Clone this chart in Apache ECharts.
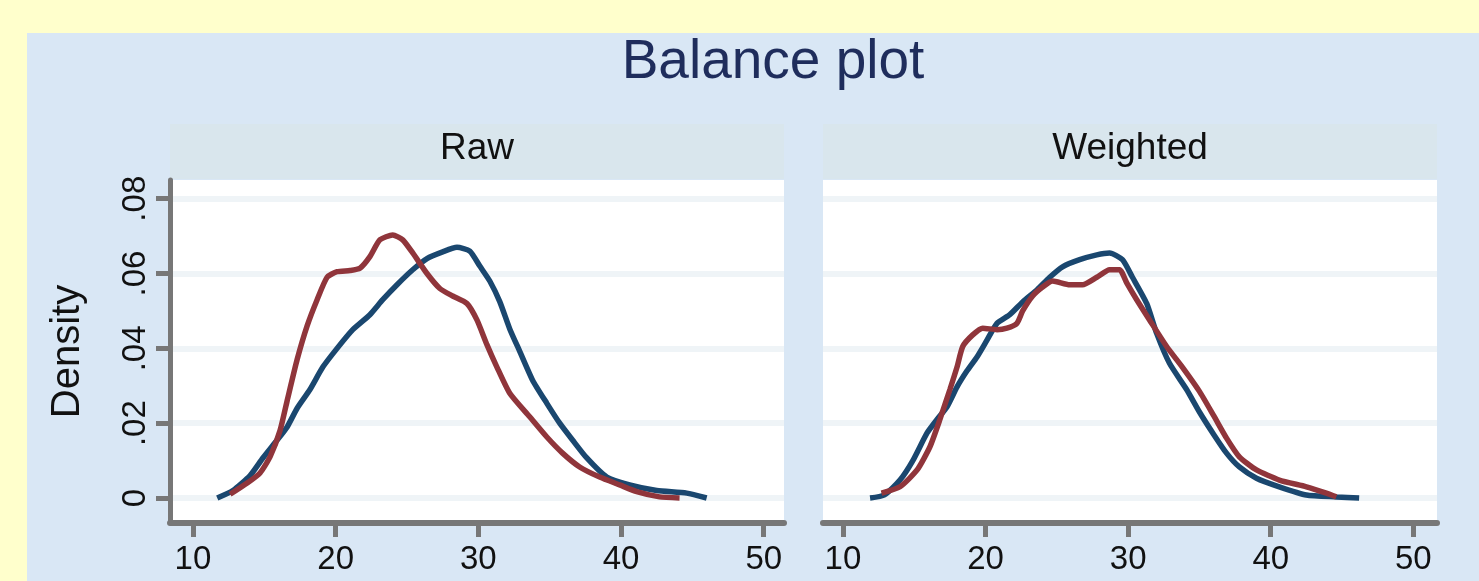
<!DOCTYPE html>
<html>
<head>
<meta charset="utf-8">
<title>Balance plot</title>
<script src="https://cdn.jsdelivr.net/npm/echarts@6/dist/echarts.min.js"></script>
<style>
  html, body { margin: 0; padding: 0; background: #ffffcc; }
  #chart { width: 1479px; height: 581px; }
</style>
</head>
<body>
<div id="chart"></div>
<script>
// 刻度
const xTicks = [10, 20, 30, 40, 50];
const yTicks = [0, 0.02, 0.04, 0.06, 0.08];
const yTickLabels = ['0', '.02', '.04', '.06', '.08'];
const panelNames = ['Raw', 'Weighted'];

// Raw - control (blue)
const rawCtrlX = [11.7, 12.8, 14.0, 14.9, 15.9, 16.6, 17.3, 18.2, 19.1, 20.1, 21.2, 22.4, 23.3, 24.3, 25.4, 26.4, 27.5, 28.5, 29.4, 30.1, 30.8, 31.5, 32.2, 32.9, 33.8, 34.8, 35.7, 36.6, 37.6, 39.0, 40.6, 42.5, 44.6, 46.0];
const rawCtrlY = [0, 0.002, 0.006, 0.0107, 0.0155, 0.019, 0.024, 0.029, 0.035, 0.040, 0.045, 0.049, 0.053, 0.057, 0.061, 0.064, 0.0658, 0.067, 0.066, 0.062, 0.058, 0.0525, 0.0452, 0.0392, 0.0315, 0.0253, 0.020, 0.0155, 0.0107, 0.0056, 0.0035, 0.002, 0.0013, 0];
// Raw - treated (red)
const rawTrtX = [12.6, 13.8, 14.7, 15.4, 16.1, 16.6, 17.3, 18.0, 18.7, 19.4, 20.1, 21.0, 21.7, 22.4, 23.1, 24.0, 24.7, 25.4, 26.4, 27.3, 28.2, 29.2, 29.9, 30.6, 31.3, 32.2, 33.6, 34.8, 35.9, 37.1, 38.5, 39.9, 41.1, 42.7, 44.1];
const rawTrtY = [0.001, 0.004, 0.0067, 0.011, 0.018, 0.026, 0.037, 0.046, 0.053, 0.059, 0.0605, 0.0608, 0.0614, 0.0645, 0.069, 0.0703, 0.069, 0.0655, 0.060, 0.056, 0.054, 0.052, 0.0476, 0.041, 0.035, 0.028, 0.0217, 0.0163, 0.012, 0.0083, 0.0056, 0.0035, 0.0017, 0.0003, 0];
// Weighted - control (blue)
const wtCtrlX = [11.9, 12.9, 14.0, 14.9, 15.9, 16.6, 17.3, 18.0, 18.7, 19.4, 20.1, 20.8, 21.7, 22.6, 23.6, 24.5, 25.4, 26.6, 27.8, 28.7, 29.6, 30.3, 31.3, 32.0, 32.9, 34.1, 35.0, 36.0, 36.9, 37.8, 39.0, 40.6, 42.5, 44.6, 46.2];
const wtCtrlY = [0, 0.0008, 0.0048, 0.010, 0.0174, 0.021, 0.0244, 0.0297, 0.034, 0.0377, 0.0422, 0.0467, 0.049, 0.0524, 0.0556, 0.059, 0.0618, 0.0637, 0.065, 0.0655, 0.0637, 0.059, 0.052, 0.044, 0.036, 0.029, 0.023, 0.017, 0.012, 0.0083, 0.0053, 0.003, 0.0008, 0.0003, 0];
// Weighted - treated (red)
const wtTrtX = [12.7, 14.0, 15.2, 16.1, 16.8, 17.5, 18.0, 18.4, 19.1, 19.8, 20.8, 21.5, 22.2, 22.6, 23.3, 24.0, 24.7, 25.9, 26.8, 27.8, 28.7, 29.4, 29.9, 30.6, 31.5, 32.7, 33.8, 35.0, 36.0, 36.9, 37.8, 39.0, 40.6, 42.5, 43.9, 44.6];
const wtTrtY = [0.0013, 0.003, 0.0075, 0.0137, 0.021, 0.029, 0.035, 0.0405, 0.0436, 0.0454, 0.045, 0.0454, 0.0467, 0.050, 0.054, 0.0564, 0.058, 0.057, 0.057, 0.059, 0.061, 0.061, 0.0575, 0.053, 0.0476, 0.0405, 0.035, 0.0285, 0.022, 0.016, 0.011, 0.0075, 0.0048, 0.003, 0.0013, 0.0003];

const zip = (xs, ys) => xs.map((x, i) => [x, ys[i]]);

const chart = echarts.init(document.getElementById('chart'));

const gridLeft = [170, 823];
const gridTop = 180;
const gridW = 614;
const gridH = 343;
const xRange = [[8.39, 51.42], [8.6, 51.66]];

const axisGray = '#777777';
const font = 'Liberation Sans, Arial, sans-serif';

const lineSeries = (name, idx, data, color) => ({
  name: name,
  type: 'line',
  xAxisIndex: idx,
  yAxisIndex: idx,
  data: data,
  showSymbol: false,
  smooth: 0.2,
  lineStyle: { color: color, width: 5.5 },
  itemStyle: { color: color },
  animation: false
});

const option = {
  backgroundColor: '#ffffcc',
  textStyle: { fontFamily: font },
  graphic: [
    // 浅蓝背景
    { type: 'rect', z: -10, shape: { x: 27, y: 33, width: 1452, height: 548 }, style: { fill: '#d9e7f5' } },
    // 面板标题条
    { type: 'rect', z: -5, shape: { x: gridLeft[0], y: 124, width: gridW, height: 55 }, style: { fill: '#d9e6ed' } },
    { type: 'rect', z: -5, shape: { x: gridLeft[1], y: 124, width: gridW, height: 55 }, style: { fill: '#d9e6ed' } },
    { type: 'text', z: 10, style: { text: panelNames[0], x: gridLeft[0] + gridW / 2, y: 149, textAlign: 'center', textVerticalAlign: 'middle', font: '37px ' + font, fill: '#111' } },
    { type: 'text', z: 10, style: { text: panelNames[1], x: gridLeft[1] + gridW / 2, y: 149, textAlign: 'center', textVerticalAlign: 'middle', font: '37px ' + font, fill: '#111' } },
    // 总标题
    { type: 'text', z: 10, style: { text: 'Balance plot', x: 773, y: 63, textAlign: 'center', textVerticalAlign: 'middle', font: '55px ' + font, fill: '#1f2d5c' } }
  ],
  grid: gridLeft.map(l => ({
    left: l, top: gridTop, width: gridW, height: gridH,
    show: true, backgroundColor: '#ffffff', borderWidth: 0
  })),
  xAxis: [0, 1].map(i => ({
    type: 'value',
    gridIndex: i,
    min: xRange[i][0],
    max: xRange[i][1],
    axisLine: { show: true, onZero: false, lineStyle: { color: axisGray, width: 6 } },
    axisTick: { show: true, length: 14, customValues: xTicks, lineStyle: { color: axisGray, width: 5 } },
    axisLabel: { customValues: xTicks, margin: 20, fontSize: 33, color: '#111', fontFamily: font },
    splitLine: { show: false }
  })),
  yAxis: [0, 1].map(i => ({
    type: 'value',
    gridIndex: i,
    min: -0.00668,
    max: 0.085,
    name: i === 0 ? 'Density' : '',
    nameLocation: 'middle',
    nameRotate: 90,
    nameGap: 82,
    nameTextStyle: { fontSize: 40, color: '#111', fontFamily: font },
    axisLine: { show: i === 0, onZero: false, lineStyle: { color: axisGray, width: 5 } },
    axisTick: { show: i === 0, length: 14, customValues: yTicks, lineStyle: { color: axisGray, width: 5 } },
    axisLabel: {
      show: i === 0,
      customValues: yTicks,
      rotate: 90,
      margin: 18,
      fontSize: 33,
      color: '#111',
      fontFamily: font,
      formatter: v => yTickLabels[yTicks.findIndex(t => Math.abs(t - v) < 1e-9)]
    },
    splitLine: { show: true, lineStyle: { color: '#eff4f7', width: 6 } }
  })),
  series: [
    lineSeries('Control', 0, zip(rawCtrlX, rawCtrlY), '#1a476f'),
    lineSeries('Treated', 0, zip(rawTrtX, rawTrtY), '#90353b'),
    lineSeries('Control', 1, zip(wtCtrlX, wtCtrlY), '#1a476f'),
    lineSeries('Treated', 1, zip(wtTrtX, wtTrtY), '#90353b')
  ]
};

chart.setOption(option);
</script>
</body>
</html>
